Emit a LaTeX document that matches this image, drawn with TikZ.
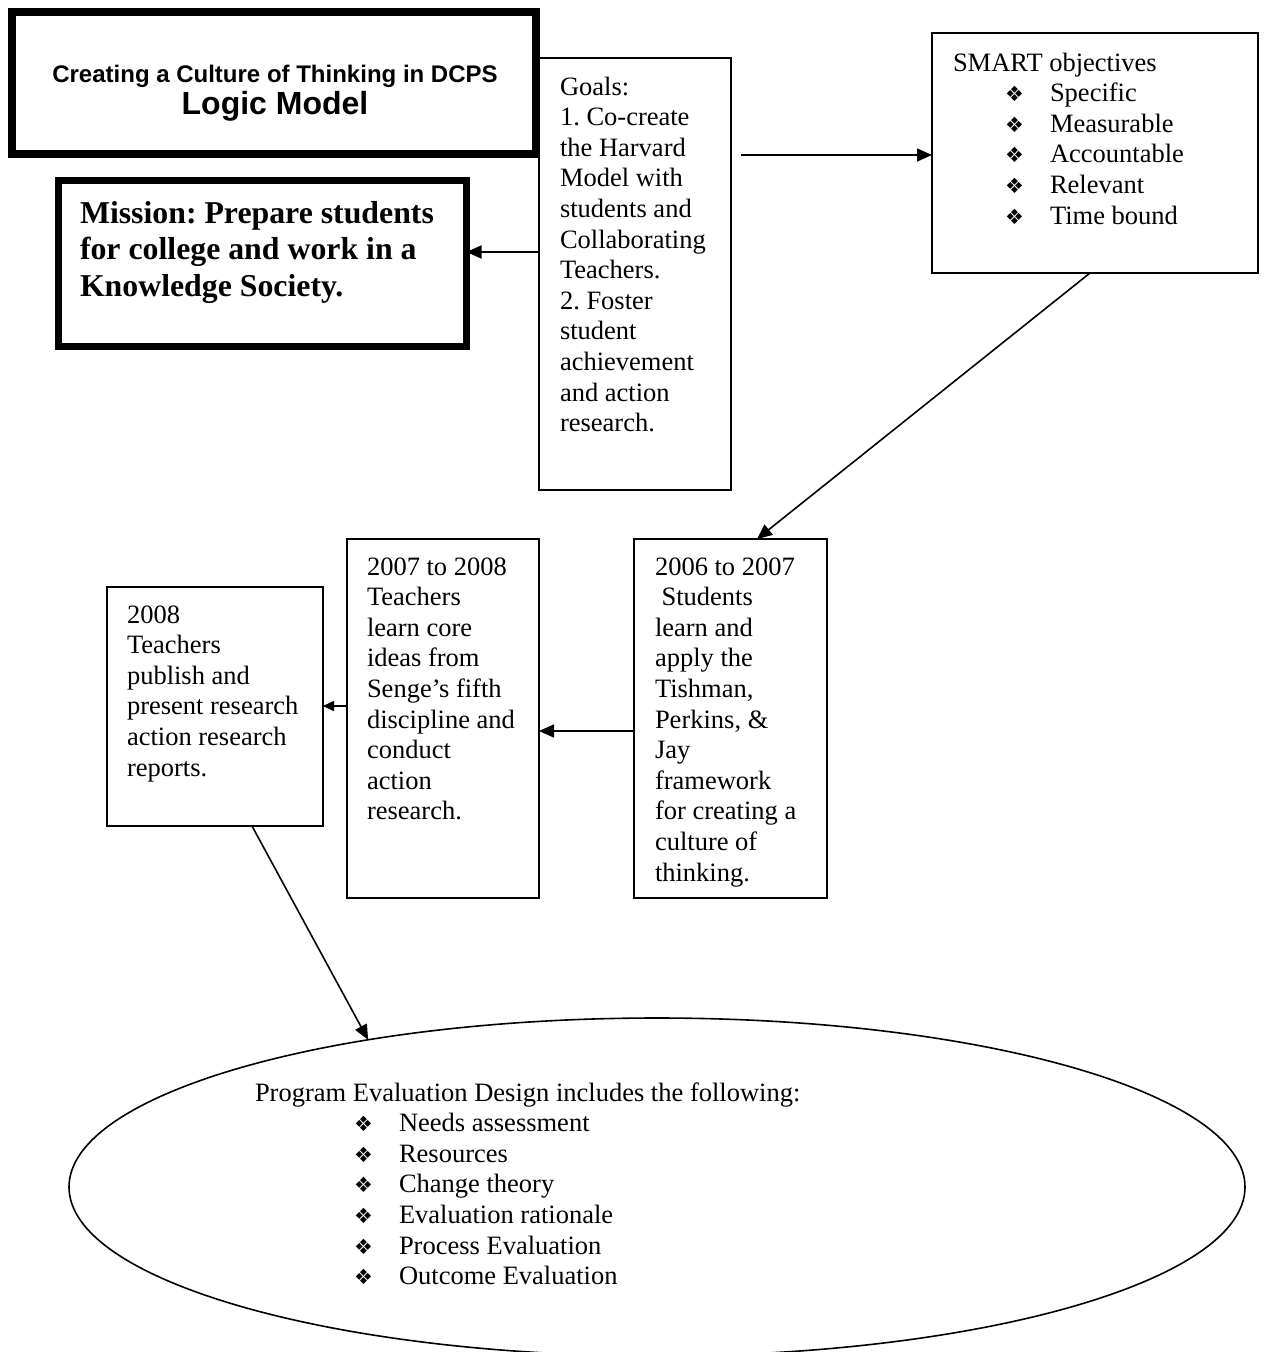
\documentclass[tikz,border=0pt]{standalone}
\usepackage{fontspec}
\setmainfont{Liberation Serif}
\newfontfamily\arialfont{Liberation Sans}
\newfontfamily\symfont{DejaVu Sans}
\usetikzlibrary{arrows.meta,shapes.geometric}
\frenchspacing
\newcommand{\bul}{{\symfont\fontsize{21}{21}\selectfont ❖}}
\newcommand{\bitem}[1]{\makebox[45pt][l]{\bul}#1}
\begin{document}
\begin{tikzpicture}[x=1pt,y=-1pt,
  box/.style={draw, line width=1.6pt, rectangle, inner sep=0pt, outer sep=0pt, anchor=north west},
  thickbox/.style={box, line width=8pt},
  txt/.style={inner sep=0pt, outer sep=0pt, anchor=base west, align=left,
    font=\fontsize{26.5}{30.6}\selectfont},
  arr/.style={line width=1.6pt, -{Triangle[length=15pt,width=13pt]}},
  sarr/.style={line width=1.6pt, -{Triangle[length=11pt,width=10pt]}}]
\useasboundingbox (0,0) rectangle (1265,1352);
\clip (0,0) rectangle (1265,1352);

% boxes
\node[box, minimum width=192, minimum height=432] (goals) at (539,58) {};
\node[thickbox, minimum width=524, minimum height=142] (title) at (12,12) {};
\node[thickbox, line width=7pt, minimum width=408, minimum height=166] (mission) at (58.5,180.5) {};
\node[box, minimum width=326, minimum height=240] (smart) at (932,33) {};
\node[box, minimum width=193, minimum height=359] (p6) at (634,539) {};
\node[box, minimum width=192, minimum height=359] (p7) at (347,539) {};
\node[box, minimum width=216, minimum height=239] (p8) at (107,587) {};
\node[draw, line width=1.6pt, ellipse, inner sep=0pt, outer sep=0pt,
  minimum width=1176, minimum height=338] (ell) at (657,1187) {};

% texts (anchor base = baseline of the last line)
\node[inner sep=0pt, anchor=base, font=\arialfont\bfseries\fontsize{24}{24}\selectfont] (t1) at (275,82) {Creating a Culture of Thinking in DCPS};
\node[inner sep=0pt, anchor=base, font=\arialfont\bfseries\fontsize{32}{32}\selectfont] (t2) at (275,114) {Logic Model};

\node[txt, font=\bfseries\fontsize{31.8}{36.5}\selectfont] (mtext) at (80,296)
  {Mission: Prepare students\\for college and work in a\\Knowledge Society.};

\node[txt] (gtext) at (560,431.6) {Goals:\\1. Co-create\\the Harvard\\Model with\\students and\\Collaborating\\Teachers.\\2. Foster\\student\\achievement\\and action\\research.};

\node[txt] (stext) at (953,224) {SMART objectives\\
  \hspace*{52pt}\bitem{Specific}\\
  \hspace*{52pt}\bitem{Measurable}\\
  \hspace*{52pt}\bitem{Accountable}\\
  \hspace*{52pt}\bitem{Relevant}\\
  \hspace*{52pt}\bitem{Time bound}};

\node[txt] (t6) at (655,881) {2006 to 2007\\\ Students\\learn and\\apply the\\Tishman,\\Perkins, \&\\Jay\\framework\\for creating a\\culture of\\thinking.};

\node[txt] (t7) at (367,819.8) {2007 to 2008\\Teachers\\learn core\\ideas from\\Senge’s fifth\\discipline and\\conduct\\action\\research.};

\node[txt] (t8) at (127,776) {2008\\Teachers\\publish and\\present research\\action research\\reports.};

\node[txt] (etext) at (255,1284.6) {Program Evaluation Design includes the following:\\
  \hspace*{99pt}\bitem{Needs assessment}\\
  \hspace*{99pt}\bitem{Resources}\\
  \hspace*{99pt}\bitem{Change theory}\\
  \hspace*{99pt}\bitem{Evaluation rationale}\\
  \hspace*{99pt}\bitem{Process Evaluation}\\
  \hspace*{99pt}\bitem{Outcome Evaluation}};

% connectors
\coordinate (gs) at (741,155);
\draw[arr] (gs) -- (gs -| smart.west);
\coordinate (gm) at (539,252);
\draw[arr] (gm) -- (mission.east |- gm);
\coordinate (sb) at (1090,273);
\coordinate (pt6) at (757,539);
\draw[arr] (sb) -- (pt6);
\coordinate (c67) at (634,731);
\draw[arr] (c67) -- (p7.east |- c67);
\coordinate (c78) at (347,706);
\draw[sarr] (c78) -- (p8.east |- c78);
\coordinate (p8b) at (252,826);
\draw[arr] (p8b) -- (ell.153.7);
\end{tikzpicture}
\end{document}
